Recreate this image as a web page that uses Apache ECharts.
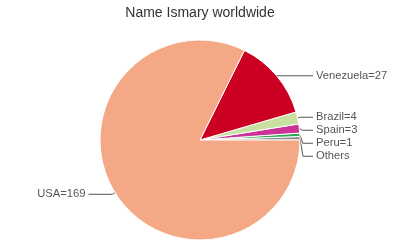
<!DOCTYPE html>
<html><head><meta charset="utf-8">
<script src="https://cdn.jsdelivr.net/npm/echarts@6/dist/echarts.min.js"></script>
<style>html,body{margin:0;padding:0;background:#fff}#c{width:400px;height:250px}</style>
</head><body><div id="c"></div>
<script>
const categories = ['Others', 'Peru', 'Spain', 'Brazil', 'Venezuela', 'USA'];
const values = [1, 1, 3, 4, 27, 169];
const showValue = [false, true, true, true, true, true];
const colors = ['#888888', '#33a852', '#cc3399', '#c8e0a0', '#cc0022', '#f4a886'];

const chart = echarts.init(document.getElementById('c'), null, {renderer: 'canvas'});
const font = "'Liberation Sans', Arial, sans-serif";
chart.setOption({
  animation: false,
  title: {
    text: 'Name Ismary worldwide', left: 'center', top: 1,
    textStyle: {fontSize: 14, fontWeight: 'normal', color: '#333', fontFamily: font}
  },
  series: [{
    type: 'pie',
    center: ['50%', 140],
    radius: 100,
    startAngle: 0,
    clockwise: false,
    minAngle: 2,
    avoidLabelOverlap: true,
    itemStyle: {borderColor: '#fff', borderWidth: 1},
    label: {
      color: '#555', fontSize: 11.2, lineHeight: 11, fontFamily: font,
      alignTo: 'labelLine', overflow: 'none', distanceToLabelLine: 3,
      formatter: p => showValue[p.dataIndex] ? p.name + '=' + p.value : p.name
    },
    labelLine: {length: 3, length2: 10, lineStyle: {color: '#555', width: 1}},
    data: categories.map((c, i) => ({
      name: c, value: values[i], itemStyle: {color: colors[i]},
      labelLine: c === 'USA' ? {length: 3, length2: 24} : (c === 'Venezuela' ? {length: 0, length2: 10} : undefined)
    }))
  }]
});
</script></body></html>
